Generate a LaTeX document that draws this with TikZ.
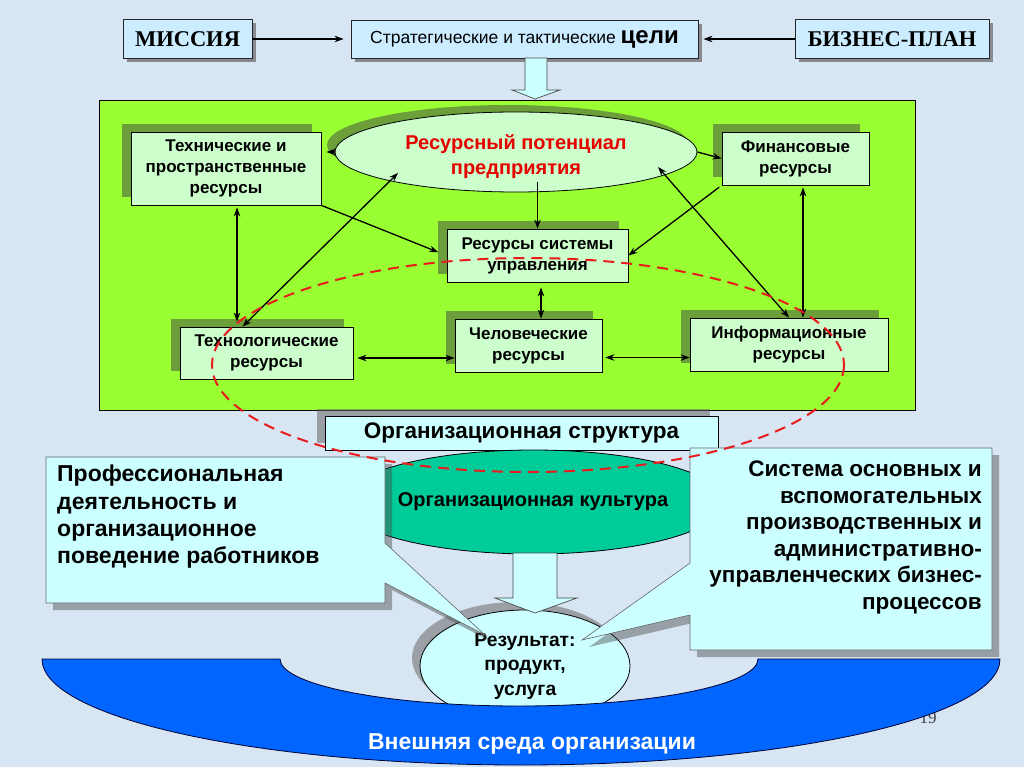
\documentclass[tikz,border=0pt]{standalone}
\usepackage{fontspec}
\setmainfont{Liberation Sans}
\newfontfamily\timesfont{Liberation Serif}
\usetikzlibrary{arrows.meta,shadows,shapes.geometric,calc,positioning}

\definecolor{slidebg}{RGB}{216,229,243}
\definecolor{capblue}{RGB}{204,236,255}
\definecolor{limegreen}{RGB}{153,255,51}
\definecolor{palegreen}{RGB}{204,255,204}
\definecolor{palecyan}{RGB}{204,255,255}
\definecolor{culturegreen}{RGB}{0,204,153}
\definecolor{envblue}{RGB}{0,102,255}
\definecolor{potred}{RGB}{230,0,0}
\definecolor{dashred}{RGB}{232,28,28}

\tikzset{
  topbox/.style={draw=black!85, fill=capblue, line width=0.8pt, inner sep=0pt,
    drop shadow={shadow xshift=4pt, shadow yshift=-4pt, fill=black!60, opacity=.7}},
  resbox/.style={draw=black, fill=palegreen, line width=0.8pt, inner sep=0pt, align=center,
    font=\fontsize{17}{21}\selectfont\bfseries,
    drop shadow={shadow xshift=-9pt, shadow yshift=8pt, fill=black!75, opacity=.5}},
  link/.style={-{Stealth[length=9pt,width=6.5pt]}, line width=1.3pt},
  dlink/.style={{Stealth[length=9pt,width=6.5pt]}-{Stealth[length=9pt,width=6.5pt]}, line width=1.3pt},
  blockarrow/.style={draw=black!70, fill=palecyan, line width=0.7pt},
  calloutbox/.style={draw=black!60, fill=palecyan, line width=0.6pt},
  calloutshade/.style={fill=black!70, opacity=.45}
}

\begin{document}
\begin{tikzpicture}[x=1pt, y=-1pt]
% Slide background
\fill[slidebg] (0,0) rectangle (1024,767);
\useasboundingbox (0,0) rectangle (1024,767);

% Top row: mission, goals, business plan
\node[topbox, minimum width=129, minimum height=39, font=\timesfont\fontsize{22.5}{24}\selectfont\bfseries] (mission) at (187.5,39) {МИССИЯ};
\node[topbox, minimum width=347, minimum height=38, font=\fontsize{17.5}{20}\selectfont] (goals) at (524.5,39) {Стратегические и тактические {\fontsize{24}{26}\selectfont\bfseries цели}};
\node[topbox, minimum width=194, minimum height=39, font=\timesfont\fontsize{22.5}{24}\selectfont\bfseries] (plan) at (892,39) {БИЗНЕС-ПЛАН};
\draw[link, shorten >=7pt] (mission) -- (goals);
\draw[link, shorten >=5pt] (plan) -- (goals);

% Block arrow down into the resource block
\filldraw[blockarrow] (525,58) -- (547,58) -- (547,90) -- (560,90) -- (535,99) -- (512,90) -- (525,90) -- cycle;

% Resource block
\draw[fill=limegreen, line width=0.8pt] (99,100) rectangle (915,410);
\node[ellipse, draw=black, fill=palegreen, line width=0.8pt, minimum width=362, minimum height=80, inner sep=0pt, drop shadow={shadow xshift=-8pt, shadow yshift=7pt, fill=black!75, opacity=.5}] (pot) at (516,152) {};
\node[align=center, text=potred, inner sep=0pt, font=\fontsize{20}{25}\selectfont\bfseries] (pottext) at ([yshift=-5pt]pot.center) {Ресурсный потенциал\\предприятия};

\node[resbox, minimum width=190, minimum height=73] (tech) at (226,168.5) {Технические и\\пространственные\\ресурсы};
\node[resbox, minimum width=147, minimum height=53] (fin) at (795.5,158.5) {Финансовые\\ресурсы};
\node[resbox, minimum width=181, minimum height=53] (sys) at (537.5,255.5) {Ресурсы системы\\управления};
\node[resbox, minimum width=173, minimum height=52] (techno) at (266.5,353) {Технологические\\ресурсы};
\node[resbox, minimum width=147, minimum height=53] (human) at (528.5,345.5) {Человеческие\\ресурсы};
\node[resbox, minimum width=198, minimum height=53] (info) at (789,344.5) {Информационные\\ресурсы};

% Links between resources
\draw[link, shorten >=5pt] (pot.west) -- (pot.west -| tech.east);
\draw[dlink, shorten <=2pt, shorten >=5pt] ([xshift=11pt]tech.south) -- ([xshift=11pt]tech.south |- techno.north);
\draw[link, shorten >=9pt] (tech.south east) -- (sys.west);
\draw[dlink] ([xshift=-24pt]techno.north) -- ($(pot.center)+(-118,21)$);
\draw[link] ($(pot.south -| sys.north)+(0,-10)$) -- (sys.north);
\draw[link] (pot.east) -- (fin.west);
\draw[link, shorten <=3pt] (fin.south west) -- (sys.east);
\draw[dlink] ($(pot.center)+(142,15)$) -- (info.north);
\draw[dlink, shorten <=2pt] ([xshift=7.5pt]fin.south) -- ([xshift=7.5pt]fin.south |- info.north);
\draw[dlink, shorten <=5pt] ([xshift=3.5pt]sys.south) -- ([xshift=3.5pt]sys.south |- human.north);
\draw[dlink, shorten <=4pt] ([yshift=-5pt]techno.east) -- ([yshift=-5pt]techno.east -| human.west);
\draw[dlink, shorten <=3pt] ([yshift=-12pt]human.east) -- ([yshift=-12pt]human.east -| info.west);

% Organisational structure
\node[draw=black, fill=palecyan, line width=0.8pt, minimum width=393, minimum height=34, inner sep=0pt, font=\fontsize{22.5}{24}\selectfont\bfseries, drop shadow={shadow xshift=-8pt, shadow yshift=7pt, fill=black!60, opacity=.55}] (orgstruct) at (521.5,433) {Организационная структура};

% Page number
\node[font=\timesfont\fontsize{17}{18}\selectfont, text=black!75] (pagenum) at (928,718) {19};

% Result
\node[ellipse, draw=black, fill=palecyan, line width=0.8pt, minimum width=210, minimum height=112, inner sep=0pt, align=center, font=\fontsize{19.3}{24.5}\selectfont\bfseries, drop shadow={shadow xshift=-8pt, shadow yshift=8pt, fill=black!55, opacity=.6}] (result) at (525,666) {Результат:\\продукт,\\услуга};

% External environment arc
\filldraw[fill=envblue, draw=black!80!blue, line width=0.8pt] (42,659) arc[start angle=180, end angle=0, x radius=479, y radius=106] -- (758,659) arc[start angle=0, end angle=180, x radius=239, y radius=47] -- cycle;
\node[text=white, font=\fontsize{23}{25}\selectfont\bfseries] (envlabel) at (532,744) {Внешняя среда организации};

% Organisational culture
\node[ellipse, draw=black, fill=culturegreen, line width=0.8pt, minimum width=316, minimum height=104, inner sep=0pt, font=\fontsize{20}{22}\selectfont\bfseries] (culture) at (533,502) {Организационная культура};
\filldraw[blockarrow] (513,553) -- (557,553) -- (557,598) -- (577,598) -- (535,613) -- (495,598) -- (513,598) -- cycle;

% Callouts
\def\profcallout{(46,457) -- (385,457) -- (385,543) -- (485,635) -- (385,583) -- (385,603) -- (46,603) -- cycle}
\def\proccallout{(690,448) -- (992,448) -- (992,650) -- (690,650) -- (690,615) -- (582,640) -- (690,563) -- cycle}
\fill[calloutshade, shift={(7,7)}] \profcallout;
\filldraw[calloutbox] \profcallout;
\fill[calloutshade, shift={(7,7)}] \proccallout;
\filldraw[calloutbox] \proccallout;
\node[anchor=north west, align=left, inner sep=0pt, font=\fontsize{23}{27.3}\selectfont\bfseries] (proftext) at (57,465) {Профессиональная\\деятельность и\\организационное\\поведение работников};
\node[anchor=north east, align=right, inner sep=0pt, font=\fontsize{22.5}{26.5}\selectfont\bfseries] (proctext) at (982,461) {Система основных и\\вспомогательных\\производственных и\\административно-\\управленческих бизнес-\\процессов};

% Red dashed ellipse
\draw[dashred, line width=2pt, dash pattern=on 11pt off 7pt] (528,365) ellipse [x radius=316, y radius=107];
\end{tikzpicture}
\end{document}
